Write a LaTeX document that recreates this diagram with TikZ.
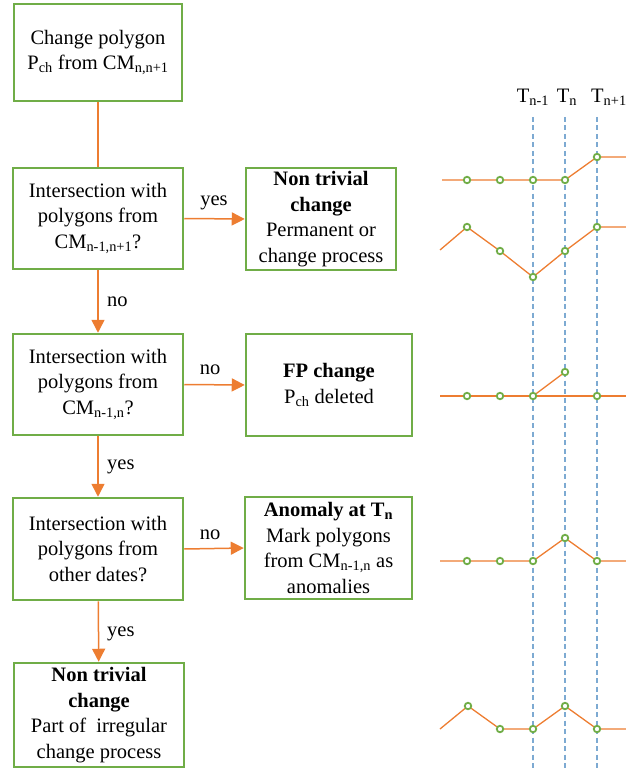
\documentclass[tikz,border=0pt]{standalone}
\usepackage{fontspec}
\setmainfont{Liberation Serif}
\usetikzlibrary{arrows.meta}
\definecolor{boxgreen}{RGB}{112,173,71}
\definecolor{arrorange}{RGB}{237,125,49}
\definecolor{dashblue}{RGB}{125,170,210}
\tikzset{
  box/.style={draw=boxgreen, line width=2.5pt, fill=white, align=center, inner sep=1pt,
    font=\fontsize{20.5}{25.5}\selectfont},
  flow/.style={draw=arrorange, line width=1.5pt, -{Triangle[length=13pt,width=13pt]}},
  plainflow/.style={draw=arrorange, line width=1.5pt},
  lbl/.style={font=\fontsize{20.5}{25}\selectfont, inner sep=0pt},
  series/.style={draw=arrorange, line width=1.3pt},
  pt/.style={circle, draw=boxgreen, fill=white, line width=1.8pt, minimum size=6.5pt, inner sep=0pt},
  tline/.style={draw=dashblue, line width=1.2pt, dash pattern=on 5pt off 3.5pt},
}
\begin{document}
\begin{tikzpicture}[x=1pt,y=-1pt]
\useasboundingbox (0,0) rectangle (625,770);

% flowchart boxes
\node[box, minimum width=168pt, minimum height=97pt] (b1) at (98,52.5)
  {Change polygon\\P\textsubscript{ch} from CM\textsubscript{n,n+1}};
\node[box, minimum width=170pt, minimum height=101pt] (b2) at (98,218.5)
  {Intersection with\\polygons from\\CM\textsubscript{n-1,n+1}?};
\node[box, minimum width=150pt, minimum height=102pt] (r1) at (321,219)
  {\textbf{Non trivial}\\\textbf{change}\\Permanent or\\change process};
\node[box, minimum width=170pt, minimum height=101pt] (b3) at (98,384.5)
  {Intersection with\\polygons from\\CM\textsubscript{n-1,n}?};
\node[box, minimum width=166pt, minimum height=102pt] (r2) at (329,385)
  {\textbf{FP change}\\P\textsubscript{ch} deleted};
\node[box, minimum width=170pt, minimum height=102pt] (b4) at (98,549)
  {Intersection with\\polygons from\\other dates?};
\node[box, minimum width=167pt, minimum height=102pt] (r3) at (328.5,548)
  {\textbf{Anomaly at T\textsubscript{n}}\\Mark polygons\\from CM\textsubscript{n-1,n} as\\anomalies};
\node[box, minimum width=170pt, minimum height=104pt] (b5) at (99,715)
  {\textbf{Non trivial}\\\textbf{change}\\Part of\ \ irregular\\change process};

% connectors
\draw[plainflow] (b1) -- (b2);
\draw[flow] (b2.east) -- (r1.west);
\draw[flow] (b2) -- (b3);
\draw[flow] (b3.east) -- (r2.west);
\draw[flow] (b3) -- (b4);
\draw[flow] (b4.east) -- (r3.west);
\draw[flow] (b4) -- (b5);

% labels
\node[lbl] (ly1) at (214,203) {yes};
\node[lbl, anchor=west] (ln1) at (107,302) {no};
\node[lbl] (ln2) at (210,370) {no};
\node[lbl, anchor=west] (ly3) at (107,467) {yes};
\node[lbl] (ln3) at (210,535) {no};
\node[lbl, anchor=west] (ly2) at (107,634) {yes};

% time axes
\node[lbl] (t1) at (533,97) {T\textsubscript{n-1}};
\node[lbl] (t2) at (567,97) {T\textsubscript{n}};
\node[lbl, anchor=west] (t3) at (591,97) {T\textsubscript{n+1}};
\draw[tline] (533,117) -- (533,770);
\draw[tline] (565,117) -- (565,770);
\draw[tline] (597,117) -- (597,770);

% row 1
\draw[series] (442,180) -- (565,180) -- (597,157) -- (626,157);
\foreach \p in {(467,180),(500,180),(533,180),(565,180),(597,157)} \node[pt] at \p {};
% row 2
\draw[series] (440,250) -- (467,227) -- (500,251) -- (533,277) -- (565,251) -- (597,227) -- (626,227);
\foreach \p in {(467,227),(500,251),(533,277),(565,251),(597,227)} \node[pt] at \p {};
% row 3
\draw[series] (440,396) -- (533,396) -- (626,396);
\draw[series] (533,396) -- (565,372);
\foreach \p in {(467,396),(500,396),(533,396),(565,372),(597,396)} \node[pt] at \p {};
% row 4
\draw[series] (440,561) -- (533,561) -- (565,538) -- (597,561) -- (626,561);
\foreach \p in {(467,561),(500,561),(533,561),(565,538),(597,561)} \node[pt] at \p {};
% row 5
\draw[series] (440,729) -- (468,706) -- (500,729) -- (533,729) -- (565,706) -- (597,729) -- (626,729);
\foreach \p in {(468,706),(500,729),(533,729),(565,706),(597,729)} \node[pt] at \p {};
\end{tikzpicture}
\end{document}
